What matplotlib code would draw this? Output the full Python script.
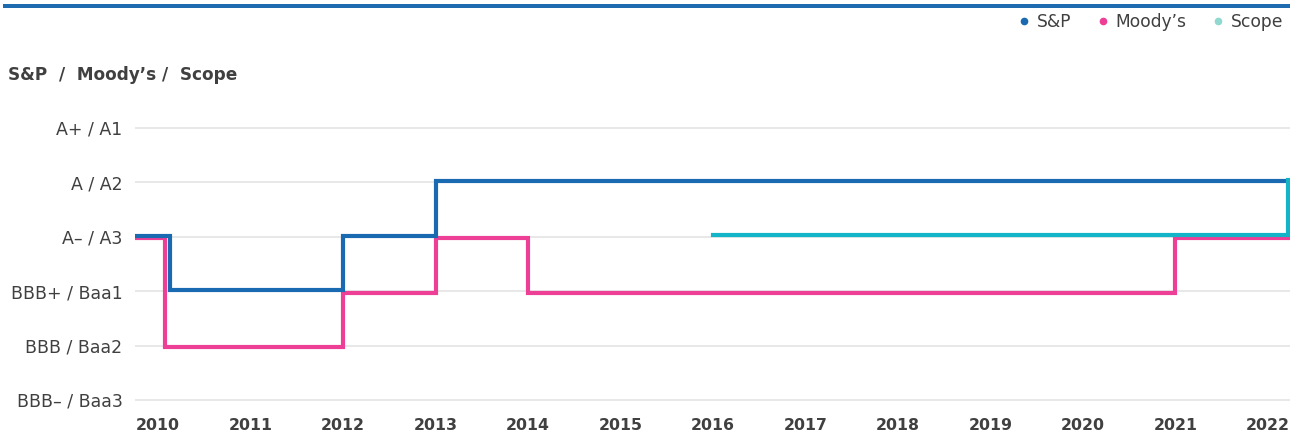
import matplotlib
matplotlib.use("Agg")
import matplotlib.pyplot as plt
import matplotlib.transforms as mtransforms
from matplotlib.lines import Line2D

plt.rcParams["font.family"] = ["DejaVu Sans"]

# ---- data ----
rating_labels = ["BBB\u2013 / Baa3", "BBB / Baa2", "BBB+ / Baa1", "A\u2013 / A3", "A / A2", "A+ / A1"]
rating_levels = [1, 2, 3, 4, 5, 6]
year_ticks = list(range(2010, 2023))

sp_dates = [2009.75, 2010.13, 2012.0, 2013.0, 2022.22]
sp_values = [4, 3, 4, 5, 5]

moodys_dates = [2009.75, 2010.07, 2012.0, 2013.0, 2014.0, 2021.0, 2022.22]
moodys_values = [4, 2, 3, 4, 3, 4, 4]

scope_dates = [2016.0, 2022.22]
scope_values = [4, 5]

series_names = ["S&P", "Moody\u2019s", "Scope"]

# ---- style ----
c_sp = "#1a6ab2"
c_moodys = "#ec3f95"
c_scope = "#13b3c8"
c_scope_legend = "#8fd9d1"
text_col = "#404040"
FONT = "DejaVu Sans"

W, H = 1296, 437
fig = plt.figure(figsize=(W / 100, H / 100), dpi=100)

left, right, top, bottom = 135, 1290, 110, 405
ax = fig.add_axes([left / W, 1 - bottom / H, (right - left) / W, (bottom - top) / H])
ax.set_xlim(2009.75, 2022.24)
ax.set_ylim(0.908, 6.33)

for s in ax.spines.values():
    s.set_visible(False)
ax.set_yticks(rating_levels)
ax.set_yticklabels(rating_labels, fontsize=12.5, color=text_col, family=FONT)
ax.set_xticks(year_ticks)
ax.set_xticklabels([str(y) for y in year_ticks], fontsize=11.3, color=text_col,
                   fontweight="bold", family=FONT)
ax.tick_params(axis="both", length=0)
ax.tick_params(axis="y", pad=9)
ax.tick_params(axis="x", pad=9)
ax.grid(axis="y", color="#e2e2e2", lw=1.1)
ax.set_axisbelow(True)

def shifted(dy_px):
    return ax.transData + mtransforms.ScaledTranslation(0, dy_px / 100, fig.dpi_scale_trans)

lw = 3.0
ax.plot(moodys_dates, moodys_values, drawstyle="steps-post", color=c_moodys, lw=lw,
        solid_joinstyle="miter", transform=shifted(-1.5), zorder=3)
ax.plot(sp_dates, sp_values, drawstyle="steps-post", color=c_sp, lw=lw,
        solid_joinstyle="miter", transform=shifted(1.0), zorder=4)
ax.plot(scope_dates, scope_values, drawstyle="steps-post", color=c_scope, lw=lw,
        solid_joinstyle="miter", transform=shifted(2.0), zorder=5)

# header
fig.text(8 / W, 1 - 75 / H, "S&P  /  Moody\u2019s /  Scope", fontsize=12.2, fontweight="bold",
         color=text_col, va="center", ha="left", family=FONT)

# top bar
fig.add_artist(plt.Rectangle((3 / W, 1 - 7.5 / H), (1290 - 3) / W, 4 / H,
                             transform=fig.transFigure, color="#1f6bb0", lw=0))

# legend
handles = [Line2D([], [], marker="o", ls="", color=c, markersize=4.5)
           for c in [c_sp, c_moodys, c_scope_legend]]
fig.legend(handles, series_names, loc="center right", bbox_to_anchor=(1290 / W, 1 - 22 / H),
           ncol=3, frameon=False, prop={"family": FONT, "size": 12.3}, handletextpad=0.35,
           columnspacing=1.45, labelcolor=text_col, borderaxespad=0, handlelength=0.8)

fig.savefig("out.png", dpi=100)
